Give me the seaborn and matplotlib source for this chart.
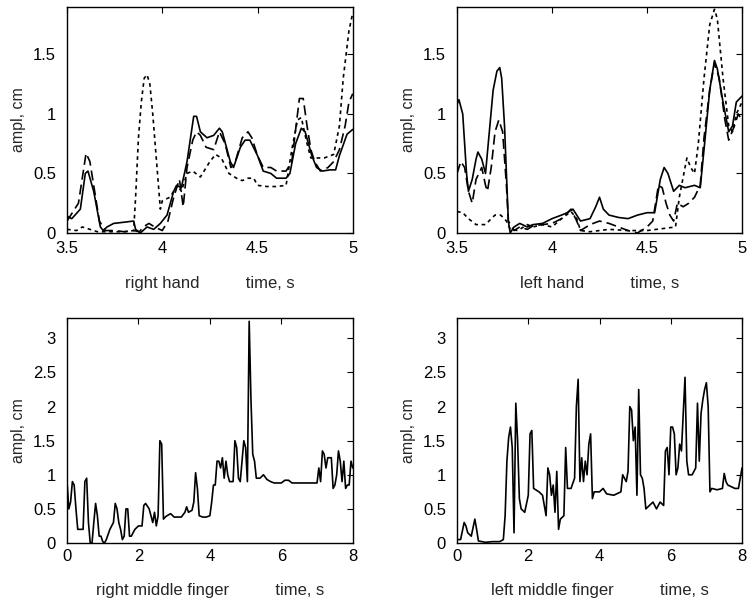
import matplotlib
matplotlib.use("Agg")
import matplotlib.pyplot as plt
import matplotlib.ticker as mticker
import seaborn as sns

# right hand, three traces (solid, dashed, dotted)
rh_solid_t = [3.5, 3.525, 3.57, 3.596, 3.61, 3.64, 3.675, 3.69, 3.71, 3.745, 3.8, 3.85, 3.86, 3.885, 3.92,
              3.955, 3.99, 4.025, 4.06, 4.075, 4.1, 4.13, 4.165, 4.18, 4.2, 4.235, 4.27, 4.3, 4.315, 4.357,
              4.374, 4.41, 4.435, 4.46, 4.5, 4.53, 4.57, 4.6, 4.65, 4.67, 4.7, 4.73, 4.75, 4.785, 4.81,
              4.84, 4.88, 4.91, 4.93, 4.97, 5.0]
rh_solid_v = [0.14, 0.12, 0.2, 0.5, 0.52, 0.35, 0.05, 0.02, 0.05, 0.08, 0.09, 0.1, 0.03, 0.0, 0.05,
              0.03, 0.08, 0.15, 0.35, 0.4, 0.38, 0.6, 0.98, 0.98, 0.85, 0.8, 0.82, 0.88, 0.85, 0.6,
              0.55, 0.72, 0.78, 0.78, 0.65, 0.52, 0.5, 0.46, 0.46, 0.5, 0.75, 0.88, 0.85, 0.65, 0.55,
              0.52, 0.53, 0.53, 0.65, 0.83, 0.87]
rh_dash_t = [3.5, 3.56, 3.6, 3.62, 3.64, 3.67, 3.7, 3.75, 3.8, 3.85, 3.88, 3.9, 3.93, 3.96, 4.0, 4.03,
             4.06, 4.09, 4.11, 4.13, 4.16, 4.18, 4.2, 4.23, 4.27, 4.3, 4.33, 4.36, 4.38, 4.42, 4.45,
             4.47, 4.5, 4.53, 4.57, 4.6, 4.65, 4.68, 4.71, 4.72, 4.74, 4.76, 4.78, 4.8, 4.83, 4.87,
             4.9, 4.93, 4.96, 4.98, 5.0]
rh_dash_v = [0.1, 0.25, 0.67, 0.6, 0.4, 0.1, 0.02, 0.02, 0.01, 0.02, 0.01, 0.05, 0.08, 0.05, 0.02, 0.1,
             0.3, 0.45, 0.22, 0.55, 0.78, 0.85, 0.82, 0.72, 0.7, 0.85, 0.75, 0.55, 0.58, 0.8, 0.85,
             0.8, 0.65, 0.55, 0.55, 0.52, 0.52, 0.6, 1.0, 1.13, 1.13, 0.9, 0.7, 0.6, 0.52, 0.55,
             0.6, 0.7, 0.9, 1.1, 1.17]
rh_dot_t = [3.5, 3.55, 3.58, 3.62, 3.66, 3.75, 3.8, 3.85, 3.86, 3.875, 3.89, 3.905, 3.92, 3.935, 3.95,
            3.965, 3.98, 3.99, 4.0, 4.04, 4.08, 4.1, 4.13, 4.16, 4.2, 4.25, 4.28, 4.31, 4.35, 4.4,
            4.42, 4.45, 4.48, 4.5, 4.55, 4.6, 4.65, 4.68, 4.71, 4.73, 4.76, 4.78, 4.85, 4.9, 4.93,
            4.95, 4.98, 5.0]
rh_dot_v = [0.03, 0.02, 0.05, 0.03, 0.01, 0.01, 0.01, 0.02, 0.3, 0.8, 1.1, 1.3, 1.33, 1.25, 1.0,
            0.7, 0.4, 0.2, 0.27, 0.3, 0.4, 0.35, 0.5, 0.52, 0.47, 0.6, 0.66, 0.63, 0.5, 0.45,
            0.44, 0.46, 0.46, 0.4, 0.39, 0.39, 0.4, 0.7, 0.95, 0.97, 0.75, 0.63, 0.63, 0.66, 0.9,
            1.3, 1.7, 1.85]

# left hand, three traces
lh_solid_t = [3.5, 3.51, 3.53, 3.55, 3.56, 3.58, 3.6, 3.61, 3.63, 3.65, 3.67, 3.69, 3.71, 3.725, 3.735,
              3.75, 3.76, 3.77, 3.78, 3.8, 3.83, 3.87, 3.9, 3.95, 4.0, 4.05, 4.08, 4.11, 4.15, 4.2, 4.23,
              4.25, 4.27, 4.3, 4.35, 4.4, 4.45, 4.5, 4.54, 4.57, 4.59, 4.61, 4.64, 4.67, 4.7, 4.75,
              4.78, 4.8, 4.83, 4.855, 4.87, 4.9, 4.93, 4.95, 4.97, 5.0]
lh_solid_v = [1.08, 1.12, 1.0, 0.5, 0.35, 0.45, 0.62, 0.68, 0.62, 0.5, 0.85, 1.2, 1.36, 1.39, 1.3,
              0.9, 0.5, 0.1, 0.0, 0.05, 0.08, 0.05, 0.07, 0.08, 0.12, 0.15, 0.17, 0.2, 0.1, 0.12, 0.22,
              0.3, 0.2, 0.15, 0.13, 0.12, 0.15, 0.17, 0.17, 0.45, 0.55, 0.5, 0.35, 0.4, 0.38, 0.4,
              0.38, 0.7, 1.2, 1.45, 1.38, 1.1, 0.85, 0.9, 1.1, 1.15]
lh_dash_t = [3.5, 3.52, 3.54, 3.56, 3.58, 3.6, 3.63, 3.65, 3.66, 3.68, 3.7, 3.72, 3.74, 3.76, 3.77,
             3.8, 3.83, 3.87, 3.9, 3.95, 4.0, 4.05, 4.1, 4.13, 4.15, 4.2, 4.25, 4.3, 4.4, 4.45,
             4.5, 4.53, 4.56, 4.58, 4.6, 4.62, 4.64, 4.66, 4.69, 4.72, 4.75, 4.78, 4.8, 4.83, 4.855,
             4.88, 4.91, 4.93, 4.96, 4.98, 5.0]
lh_dash_v = [0.5, 0.6, 0.55, 0.35, 0.25, 0.45, 0.55, 0.4, 0.35, 0.55, 0.85, 0.95, 0.85, 0.4, 0.1,
             0.02, 0.05, 0.03, 0.06, 0.07, 0.08, 0.12, 0.2, 0.1, 0.02, 0.07, 0.1, 0.08, 0.02, 0.0,
             0.05, 0.1, 0.4, 0.38, 0.25, 0.15, 0.1, 0.25, 0.22, 0.25, 0.3, 0.4, 0.8, 1.2, 1.43,
             1.3, 0.95, 0.78, 0.9, 1.0, 0.95]
lh_dot_t = [3.5, 3.53, 3.56, 3.6, 3.65, 3.68, 3.7, 3.73, 3.76, 3.78, 3.82, 3.87, 3.9, 3.95, 4.0,
            4.05, 4.1, 4.13, 4.15, 4.2, 4.3, 4.4, 4.5, 4.55, 4.6, 4.65, 4.67, 4.7, 4.71, 4.73,
            4.75, 4.77, 4.8, 4.83, 4.855, 4.87, 4.9, 4.93, 4.95, 4.97, 5.0]
lh_dot_v = [0.18, 0.17, 0.12, 0.07, 0.07, 0.12, 0.15, 0.15, 0.1, 0.03, 0.02, 0.07, 0.05, 0.07, 0.05,
            0.12, 0.18, 0.12, 0.02, 0.01, 0.03, 0.02, 0.02, 0.03, 0.04, 0.05, 0.3, 0.55, 0.63, 0.55,
            0.5, 0.75, 1.3, 1.75, 1.88, 1.8, 1.3, 0.9, 0.85, 1.0, 1.1]

# right middle finger
rmf_t = [0, 0.05, 0.1, 0.15, 0.2, 0.25, 0.3, 0.35, 0.45, 0.5, 0.55, 0.6, 0.65, 0.7, 0.75, 0.8, 0.85,
         0.9, 0.95, 1.0, 1.05, 1.1, 1.2, 1.3, 1.35, 1.4, 1.45, 1.5, 1.55, 1.6, 1.65, 1.7, 1.75, 1.8,
         1.9, 2.0, 2.1, 2.15, 2.2, 2.3, 2.35, 2.4, 2.45, 2.5, 2.55, 2.6, 2.65, 2.7, 2.75, 2.8, 2.9,
         3.0, 3.2, 3.3, 3.35, 3.4, 3.5, 3.55, 3.6, 3.65, 3.7, 3.8, 3.9, 4.0, 4.05, 4.1, 4.15, 4.2,
         4.25, 4.3, 4.35, 4.4, 4.45, 4.5, 4.55, 4.6, 4.65, 4.7, 4.75, 4.8, 4.85, 4.9, 4.95, 5.0,
         5.05, 5.1, 5.15, 5.2, 5.25, 5.3, 5.4, 5.5, 5.6, 5.7, 5.8, 6.0, 6.1, 6.2, 6.3, 7.0, 7.05,
         7.1, 7.15, 7.2, 7.25, 7.3, 7.4, 7.45, 7.5, 7.55, 7.6, 7.65, 7.7, 7.75, 7.8, 7.85, 7.9,
         7.95, 8.0]
rmf_v = [0.9, 0.5, 0.6, 0.9, 0.85, 0.5, 0.2, 0.2, 0.2, 0.9, 0.95, 0.3, 0.0, 0.0, 0.3, 0.58, 0.4,
         0.1, 0.1, 0.02, 0.0, 0.05, 0.2, 0.3, 0.58, 0.5, 0.3, 0.2, 0.05, 0.1, 0.5, 0.5, 0.1, 0.1,
         0.2, 0.25, 0.25, 0.55, 0.58, 0.5, 0.4, 0.3, 0.45, 0.25, 0.4, 1.5, 1.45, 0.35, 0.38, 0.4, 0.43,
         0.38, 0.38, 0.45, 0.53, 0.45, 0.48, 0.6, 1.03, 0.8, 0.4, 0.38, 0.38, 0.4, 0.6, 0.85, 0.85, 1.2,
         1.2, 1.1, 1.25, 0.95, 1.2, 1.0, 0.9, 0.9, 0.9, 1.5, 1.4, 0.95, 0.9, 1.2, 1.5, 1.4,
         0.9, 3.25, 2.1, 1.3, 1.2, 0.95, 0.95, 1.0, 0.93, 0.9, 0.88, 0.88, 0.92, 0.92, 0.88, 0.88, 1.1,
         0.9, 1.35, 1.3, 1.1, 1.25, 1.25, 0.8, 0.85, 1.0, 1.35, 1.2, 0.9, 1.2, 0.8, 0.85, 0.85,
         1.2, 1.1]

# left middle finger
lmf_t = [0, 0.1, 0.2, 0.25, 0.3, 0.4, 0.5, 0.55, 0.6, 0.7, 0.8, 1.0, 1.2, 1.3, 1.35, 1.4, 1.45, 1.5,
         1.55, 1.6, 1.65, 1.7, 1.75, 1.8, 1.9, 2.0, 2.05, 2.1, 2.15, 2.3, 2.4, 2.5, 2.55, 2.6, 2.65,
         2.7, 2.75, 2.8, 2.85, 2.9, 3.0, 3.05, 3.1, 3.2, 3.3, 3.35, 3.4, 3.45, 3.5, 3.55, 3.6, 3.65,
         3.7, 3.75, 3.8, 3.85, 4.0, 4.1, 4.2, 4.4, 4.6, 4.65, 4.75, 4.8, 4.85, 4.9, 4.95, 5.0, 5.05,
         5.1, 5.15, 5.2, 5.25, 5.3, 5.4, 5.5, 5.6, 5.7, 5.8, 5.85, 5.9, 5.95, 6.0, 6.05, 6.1, 6.15,
         6.2, 6.25, 6.3, 6.35, 6.4, 6.45, 6.5, 6.6, 6.7, 6.75, 6.8, 6.85, 6.9, 6.95, 7.0, 7.05, 7.1,
         7.15, 7.3, 7.45, 7.5, 7.55, 7.6, 7.8, 7.9, 8.0]
lmf_v = [0.05, 0.05, 0.3, 0.25, 0.15, 0.1, 0.35, 0.2, 0.03, 0.02, 0.01, 0.02, 0.02, 0.05, 0.4, 1.2,
         1.55, 1.7, 1.4, 0.15, 2.05, 1.5, 0.65, 0.5, 0.45, 0.7, 1.6, 1.65, 0.8, 0.75, 0.7, 0.4, 1.1,
         1.0, 0.7, 0.85, 0.45, 1.05, 0.2, 0.35, 0.4, 1.4, 0.8, 0.8, 0.95, 2.0, 2.4, 0.9, 1.25, 0.9,
         1.2, 1.0, 1.45, 1.6, 0.65, 0.75, 0.75, 0.8, 0.72, 0.7, 0.75, 1.0, 0.9, 1.05, 2.0, 1.95, 1.5,
         1.7, 0.7, 2.25, 1.0, 0.95, 0.8, 0.5, 0.55, 0.6, 0.5, 0.6, 0.55, 1.35, 1.4, 1.0, 1.7, 1.7,
         1.6, 1.0, 1.1, 1.45, 1.35, 1.9, 2.43, 1.2, 1.0, 1.0, 1.1, 2.05, 1.2, 1.9, 2.1, 2.25, 2.35,
         2.0, 0.75, 0.8, 0.78, 0.8, 1.02, 0.9, 0.85, 0.8, 0.8, 1.1]

GAP = " " * 10
XLABELS = ["right hand" + GAP + "time, s", "left hand" + GAP + "time, s",
           "right middle finger" + GAP + "time, s", "left middle finger" + GAP + "time, s"]
YLABEL = "ampl, cm"

sns.set_style("white")
plt.rcParams["font.family"] = ["Liberation Sans", "DejaVu Sans"]

DASHED = (0, (6, 3))
DOTTED = (0, (2.2, 2.2))


def style_axes(ax, xlim, ylim, xticks, yticks, xlabel, xpad):
    ax.set_xlim(*xlim)
    ax.set_ylim(*ylim)
    ax.set_xticks(xticks)
    ax.set_yticks(yticks)
    fmt = mticker.FuncFormatter(lambda v, _: f"{v:g}")
    ax.xaxis.set_major_formatter(fmt)
    ax.yaxis.set_major_formatter(fmt)
    ax.tick_params(direction="in", top=True, right=True, length=4, width=0.8,
                   labelsize=12, colors="black")
    ax.tick_params(axis="x", pad=xpad)
    ax.tick_params(axis="y", pad=8)
    ax.set_xlabel(xlabel, fontsize=12, labelpad=14)
    ax.set_ylabel(YLABEL, fontsize=11.5, labelpad=5)
    for sp in ax.spines.values():
        sp.set_visible(True)
        sp.set_color("black")
        sp.set_linewidth(1.0)


fig = plt.figure(figsize=(7.48, 6.05), dpi=100)
ax1 = fig.add_axes([0.0896, 0.615, 0.382, 0.3736])
ax2 = fig.add_axes([0.611, 0.615, 0.381, 0.3736])
ax3 = fig.add_axes([0.0896, 0.1025, 0.382, 0.372])
ax4 = fig.add_axes([0.611, 0.1025, 0.381, 0.372])

kw = dict(color="black", linewidth=1.2, estimator=None, sort=False, legend=False)
sns.lineplot(x=rh_solid_t, y=rh_solid_v, ax=ax1, **kw)
sns.lineplot(x=rh_dash_t, y=rh_dash_v, ax=ax1, linestyle=DASHED, **kw)
sns.lineplot(x=rh_dot_t, y=rh_dot_v, ax=ax1, linestyle=DOTTED, **kw)

sns.lineplot(x=lh_solid_t, y=lh_solid_v, ax=ax2, **kw)
sns.lineplot(x=lh_dash_t, y=lh_dash_v, ax=ax2, linestyle=DASHED, **kw)
sns.lineplot(x=lh_dot_t, y=lh_dot_v, ax=ax2, linestyle=DOTTED, **kw)

sns.lineplot(x=rmf_t, y=rmf_v, ax=ax3, **kw)
sns.lineplot(x=lmf_t, y=lmf_v, ax=ax4, **kw)

top_yt = [0, 0.5, 1, 1.5]
bot_yt = [0, 0.5, 1, 1.5, 2, 2.5, 3]
style_axes(ax1, (3.5, 5.0), (0, 1.9), [3.5, 4, 4.5, 5], top_yt, XLABELS[0], 6)
style_axes(ax2, (3.5, 5.0), (0, 1.9), [3.5, 4, 4.5, 5], top_yt, XLABELS[1], 6)
style_axes(ax3, (0, 8), (0, 3.3), [0, 2, 4, 6, 8], bot_yt, XLABELS[2], 4)
style_axes(ax4, (0, 8), (0, 3.3), [0, 2, 4, 6, 8], bot_yt, XLABELS[3], 4)

fig.savefig("out.png", dpi=100)
plt.close(fig)
